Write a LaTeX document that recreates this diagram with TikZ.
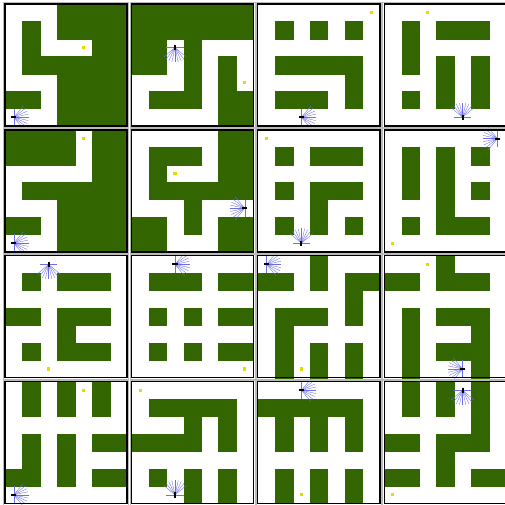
\documentclass[tikz,border=0pt]{standalone}
\usepackage{tikz}

\definecolor{wallgreen}{RGB}{51,102,0}
\definecolor{rayblue}{RGB}{110,110,235}
\definecolor{goalyellow}{RGB}{222,222,0}

% one maze panel: shift, rows of wall cells (row/{cols}), extras
\newcommand{\mazepanel}[3]{%
  \begin{scope}[shift={#1}]
    \foreach \r/\cs in {#2} {
      \foreach \c in \cs { \fill[wall] (\c,-\r) rectangle ++(1,-1); }
    }
    #3
    \draw[outerframe] (-0.09,0.09) rectangle (7.09,-7.09);
    \draw[frame] (0,0) rectangle (7,-7);
  \end{scope}}
\newcommand{\goalat}[2]{\fill[goal] (#1+0.41,-#2-0.59) rectangle ++(0.18,0.18);}
\newcommand{\agentat}[3]{%
  \begin{scope}[shift={(#1+0.5,-#2-0.5)}, rotate=#3]
    \foreach \a in {-50,-37.5,...,50} \draw[ray] (0,0) -- (\a:0.85);
    \draw[ray] (0,-0.5) -- (0,0.5);
    \draw[body] (-0.15,0) -- (0.15,0);
  \end{scope}}

\begin{document}
\begin{tikzpicture}[
    x=0.5cm, y=0.5cm,
    wall/.style={fill=wallgreen, draw=wallgreen, line width=0.2pt},
    frame/.style={draw=black, line width=1.1pt},
    outerframe/.style={draw=gray!55, line width=0.4pt},
    goal/.style={fill=goalyellow},
    ray/.style={draw=rayblue, line width=0.3pt},
    body/.style={draw=black, line width=1.6pt}
  ]
  \useasboundingbox (0,0) rectangle (28.97,-28.97);
  \clip (0,0) rectangle (28.97,-28.97);

  % row 1
  \mazepanel{(0.29,-0.23)}{0/{3,4,5,6},1/{1,3,4,5,6},2/{1,5,6},3/{1,2,3,4,5,6},4/{3,4,5,6},5/{0,1,3,4,5,6},6/{3,4,5,6}}
    {\goalat{4}{2}\agentat{0}{6}{0}}
  \mazepanel{(7.54,-0.23)}{0/{0,1,2,3,4,5,6},1/{0,1,2,3,4,5,6},2/{0,1,3},3/{0,1,3,5},4/{3,5},5/{1,2,3,5,6},6/{5,6}}
    {\goalat{6}{4}\agentat{2}{2}{270}}
  \mazepanel{(14.79,-0.23)}{1/{1,3,5},3/{1,2,3,4,5},4/{5},5/{1,2,3,5}}
    {\goalat{6}{0}\agentat{2}{6}{0}}
  \mazepanel{(22.04,-0.23)}{1/{1,3,4,5},2/{1},3/{1,3,5},4/{3,5},5/{1,3,5}}
    {\goalat{2}{0}\agentat{4}{6}{90}}

  % row 2
  \mazepanel{(0.29,-7.45)}{0/{0,1,2,3,5,6},1/{0,1,2,3,5,6},2/{5,6},3/{1,2,3,4,5,6},4/{3,4,5,6},5/{0,1,3,4,5,6},6/{3,4,5,6}}
    {\goalat{4}{0}\agentat{0}{6}{0}}
  \mazepanel{(7.54,-7.45)}{0/{5,6},1/{1,2,3,5,6},2/{1,5,6},3/{1,2,3,4,5,6},4/{3},5/{0,1,3,5,6},6/{0,1,5,6}}
    {\goalat{2}{2}\agentat{6}{4}{180}}
  \mazepanel{(14.79,-7.45)}{1/{1,3,4,5},3/{1,3,4,5},4/{3},5/{1,3,5}}
    {\goalat{0}{0}\agentat{2}{6}{90}}
  \mazepanel{(22.04,-7.45)}{1/{1,3,5},2/{1,3},3/{1,3,5},4/{3},5/{1,3,4,5}}
    {\goalat{0}{6}\agentat{6}{0}{180}}

  % row 3
  \mazepanel{(0.29,-14.67)}{1/{1,3,4,5},3/{0,1,3,4,5},4/{3},5/{1,3,4,5}}
    {\goalat{2}{6}\agentat{2}{0}{270}}
  \mazepanel{(7.54,-14.67)}{1/{1,2,3,5,6},3/{1,3,5,6},5/{1,3,5,6}}
    {\goalat{6}{6}\agentat{2}{0}{0}}
  \mazepanel{(14.79,-14.67)}{0/{3},1/{0,1,3,5,6},2/{5},3/{1,2,3,5},4/{1},5/{1,3,5},6/{1,3,5}}
    {\goalat{2}{6}\agentat{0}{0}{0}}
  \mazepanel{(22.04,-14.67)}{0/{3},1/{0,1,3,4,5},3/{1,3,4,5},4/{1,5},5/{1,3,4,5},6/{1,5}}
    {\goalat{2}{0}\agentat{4}{6}{180}}

  % row 4
  \mazepanel{(0.29,-21.89)}{0/{1,3,5},1/{1,3,5},3/{1,3,5,6},4/{1,3},5/{0,1,3,5,6}}
    {\goalat{4}{0}\agentat{0}{6}{0}}
  \mazepanel{(7.54,-21.89)}{1/{1,2,3,4,5},2/{3,5},3/{0,1,2,3,5},5/{1,3,5},6/{3,5}}
    {\goalat{0}{0}\agentat{2}{6}{90}}
  \mazepanel{(14.79,-21.89)}{1/{0,1,2,3,4,5},2/{1,3,5},3/{1,3,5},5/{1,3,5},6/{1,3,5}}
    {\goalat{2}{6}\agentat{2}{0}{0}}
  \mazepanel{(22.04,-21.89)}{0/{1,3,5},1/{1,3,5},2/{5},3/{0,1,3,4,5},4/{3},5/{0,1,3,5,6}}
    {\goalat{0}{6}\agentat{4}{0}{270}}
\end{tikzpicture}
\end{document}
